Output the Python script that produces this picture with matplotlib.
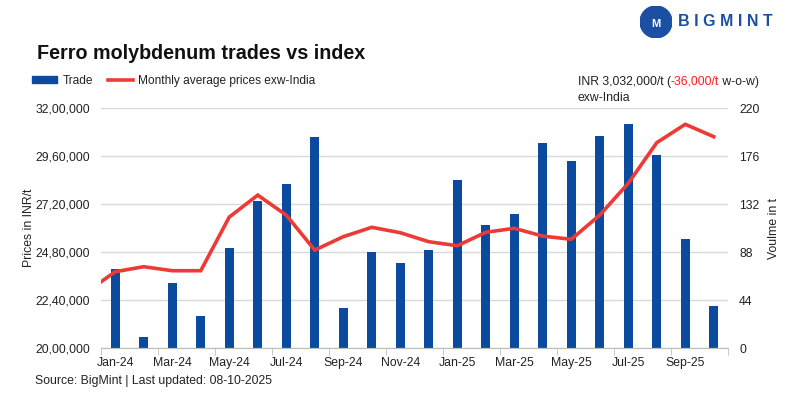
import numpy as np
import matplotlib.pyplot as plt
from matplotlib.patches import Circle
from matplotlib.ticker import FuncFormatter

plt.rcParams['font.family'] = ['Liberation Sans', 'DejaVu Sans']

# --- data ---
MESES = ['Jan-24', 'Feb-24', 'Mar-24', 'Apr-24', 'May-24', 'Jun-24', 'Jul-24', 'Aug-24',
         'Sep-24', 'Oct-24', 'Nov-24', 'Dec-24', 'Jan-25', 'Feb-25', 'Mar-25', 'Apr-25',
         'May-25', 'Jun-25', 'Jul-25', 'Aug-25', 'Sep-25', 'Oct-25']
VOLUMEN = [73, 10, 60, 30, 92, 135, 151, 194, 37, 88, 78, 90,
           154, 113, 123, 188, 172, 195, 206, 177, 100, 39]
PRECIO = [2383000, 2408000, 2388000, 2388000, 2656000, 2766000, 2666000, 2491000,
          2558000, 2605000, 2578000, 2533000, 2513000, 2580000, 2600000, 2561000,
          2545000, 2666000, 2825000, 3028000, 3120000, 3058000]
PRECIO_DIC23 = 2282000  # punto previo, queda recortado por el borde
ANOTACION = [('INR 3,032,000/t (', '#222222'), ('-36,000/t', '#FF1A1A'), (' w-o-w)', '#222222')]

AZUL = '#0A4A9F'
ROJO = '#EE3A36'
GRIS = '#D9D9D9'
TEXTO = '#222222'
FS = 8.8


def formato_indio(v, pos=None):
    s = str(int(round(v)))
    if len(s) <= 3:
        return s
    ult = s[-3:]
    resto = s[:-3]
    grupos = []
    while len(resto) > 2:
        grupos.insert(0, resto[-2:])
        resto = resto[:-2]
    if resto:
        grupos.insert(0, resto)
    return ','.join(grupos) + ',' + ult


fig = plt.figure(figsize=(8, 3.99), dpi=100)
ax = fig.add_axes([0.12625, 0.127, 0.78375, 0.6016])
ax2 = ax.twinx()

x = np.arange(len(MESES))

# barras en el eje derecho (volumen)
ax2.bar(x, VOLUMEN, width=0.32, color=AZUL, zorder=2)
ax2.set_ylim(0, 220)
ax2.set_yticks(np.arange(0, 221, 44))
ax2.grid(axis='y', color=GRIS, linewidth=1, zorder=0)
ax2.set_axisbelow(True)
ax2.tick_params(axis='y', length=0, labelsize=FS, labelcolor=TEXTO, pad=8)
ax2.set_ylabel('Voulme in t', fontsize=FS, color=TEXTO, labelpad=6)

# linea de precios en el eje izquierdo, por encima
ax.set_zorder(ax2.get_zorder() + 1)
ax.patch.set_visible(False)
ax.plot(np.concatenate(([-1], x)), [PRECIO_DIC23] + PRECIO, color=ROJO, linewidth=2.6,
        solid_joinstyle='miter', zorder=3)
ax.set_ylim(2000000, 3200000)
ax.set_yticks(np.arange(2000000, 3200001, 240000))
ax.yaxis.set_major_formatter(FuncFormatter(formato_indio))
ax.tick_params(axis='y', length=0, labelsize=FS, labelcolor=TEXTO, pad=8)
ax.set_ylabel('Prices in INR/t', fontsize=FS, color=TEXTO, labelpad=0)

ax.set_xlim(-0.5, len(MESES) - 0.5)
ax.set_xticks(x[::2])
ax.set_xticklabels(MESES[::2])
ax.set_xticks(np.arange(-0.5, len(MESES), 2), minor=True)
ax.tick_params(axis='x', which='major', length=0, labelsize=FS, labelcolor=TEXTO, pad=6)
ax.tick_params(axis='x', which='minor', length=5, color='#BFBFBF')

for a in (ax, ax2):
    for lado in ('top', 'left', 'right'):
        a.spines[lado].set_visible(False)
    a.spines['bottom'].set_color('#BFBFBF')

# titulo y leyenda
fig.text(0.046, 0.866, 'Ferro molybdenum trades vs index', fontsize=14.2,
         fontweight='bold', color='#111111', va='center')
lg = ax.legend(handles=[plt.Rectangle((0, 0), 1, 1, color=AZUL),
                        plt.Line2D([], [], color=ROJO, linewidth=2.6)],
               labels=['Trade', 'Monthly average prices exw-India'],
               loc='center left', bbox_to_anchor=(0.027, 0.797), bbox_transform=fig.transFigure,
               ncol=2, frameon=False, fontsize=8.6, handlelength=2.1, handleheight=0.55,
               columnspacing=1.2, handletextpad=0.45)
for t in lg.get_texts():
    t.set_color(TEXTO)

# anotacion del precio semanal, trozos encadenados
render = fig.canvas.get_renderer()
xpos = 0.722
for trozo, color in ANOTACION:
    t = fig.text(xpos, 0.795, trozo, fontsize=FS, color=color, va='center')
    bb = t.get_window_extent(renderer=render)
    xpos += bb.width / fig.bbox.width
fig.text(0.722, 0.754, 'exw-India', fontsize=FS, color=TEXTO, va='center')

# fuente
fig.text(0.044, 0.045, 'Source: BigMint | Last updated: 08-10-2025', fontsize=FS,
         color=TEXTO, va='center')

# logo
logo = fig.add_axes([0.80, 0.905, 0.04, 0.08])
logo.set_xlim(-1, 1)
logo.set_ylim(-1, 1)
logo.set_aspect('equal')
logo.axis('off')
logo.add_patch(Circle((0, 0), 1, color='#1B4FA3'))
logo.text(0, -0.15, 'M', color='white', fontsize=8, fontweight='bold', ha='center', va='center')
fig.text(0.847, 0.945, 'B I G M I N T', fontsize=11.5, fontweight='bold', color='#1B4FA3',
         va='center')

fig.savefig('out.png', dpi=100)
